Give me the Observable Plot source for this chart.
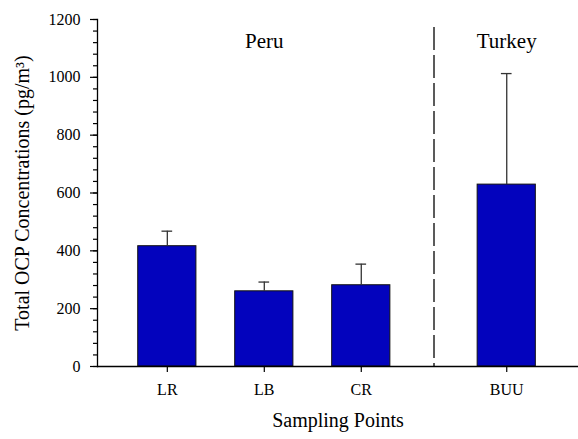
<!DOCTYPE html>
<html><head><meta charset="utf-8">
<script src="https://cdn.jsdelivr.net/npm/d3@7"></script>
<script src="https://cdn.jsdelivr.net/npm/@observablehq/plot@0.6"></script>
<style>body{margin:0;background:#fff}</style>
</head><body><div id="chart"></div>
<script>
const sites = ["LR", "LB", "CR", "BUU"];
const countries = ["Peru", "Peru", "Peru", "Turkey"];
const meanValues = [416, 260, 281, 629];
const errorValues = [52, 32, 73, 384];
const yTicks = [0, 200, 400, 600, 800, 1000, 1200];
const yMinorStep = 40;

const data = sites.map((s, i) => ({
  site: s, country: countries[i], value: meanValues[i], err: errorValues[i],
  pos: i + 1 + (countries[i] === "Turkey" ? 0.5 : 0)
}));
const groupNames = [...new Set(countries)];
const groups = groupNames.map(g => ({name: g, center: d3.mean(data.filter(d => d.country === g), d => d.pos)}));
const lastPeru = d3.max(data.filter(d => d.country === "Peru"), d => d.pos);
const firstTurkey = d3.min(data.filter(d => d.country === "Turkey"), d => d.pos);
const divider = (lastPeru + firstTurkey) / 2;

const font = "Liberation Serif";
const chart = Plot.plot({
  width: 578, height: 439,
  marginLeft: 97, marginRight: 0, marginTop: 19, marginBottom: 73,
  style: {fontFamily: font, background: "white", color: "black"},
  x: {type: "linear", domain: [data[0].pos - 0.72, data[3].pos + 0.74], axis: null},
  y: {domain: [0, 1200], axis: null},
  marks: [
    Plot.axisY({ticks: d3.range(0, 1201, yMinorStep), tickSize: 4, tickFormat: () => "", label: null, strokeWidth: 1.2}),
    Plot.axisY({ticks: yTicks, tickSize: 7, tickFormat: () => "", label: null, strokeWidth: 1.2}),
    Plot.axisX({ticks: data.map(d => d.pos), tickSize: 6, tickFormat: () => "", label: null, strokeWidth: 1.2}),
    Plot.text(yTicks, {y: d => d, text: d => String(d), frameAnchor: "left", textAnchor: "end", dx: -17, fontSize: 16, fontFamily: font, fill: "black"}),
    Plot.text(data, {x: "pos", text: "site", frameAnchor: "bottom", lineAnchor: "top", dy: 17, fontSize: 16, fontFamily: font, fill: "black"}),
    Plot.ruleX([divider], {stroke: "#333", strokeWidth: 1.6, strokeDasharray: "23,5", insetTop: 8}),
    Plot.rectY(data, {x1: d => d.pos - 0.3, x2: d => d.pos + 0.3, y: "value", fill: "#0303bd", stroke: "#111", strokeWidth: 1}),
    Plot.ruleX(data, {x: "pos", y1: "value", y2: d => d.value + d.err, stroke: "#333", strokeWidth: 1.3}),
    Plot.ruleY(data, {x1: d => d.pos - 0.055, x2: d => d.pos + 0.055, y: d => d.value + d.err, stroke: "#333", strokeWidth: 1.3}),
    Plot.ruleY([0], {stroke: "black", strokeWidth: 1.3}),
    Plot.frame({anchor: "left", stroke: "black", strokeWidth: 1.3}),
    Plot.text(groups, {x: "center", text: "name", frameAnchor: "top", dy: 14, fontSize: 21, fontFamily: font, fill: "black"}),
    Plot.text(["Total OCP Concentrations (pg/m³)"], {frameAnchor: "left", textAnchor: "middle", dx: -75, rotate: -90, fontSize: 20, fontFamily: font, fill: "black"}),
    Plot.text(["Sampling Points"], {frameAnchor: "bottom", dy: 60, fontSize: 20, fontFamily: font, fill: "black"})
  ]
});
document.getElementById("chart").appendChild(chart);
</script>
</body></html>
